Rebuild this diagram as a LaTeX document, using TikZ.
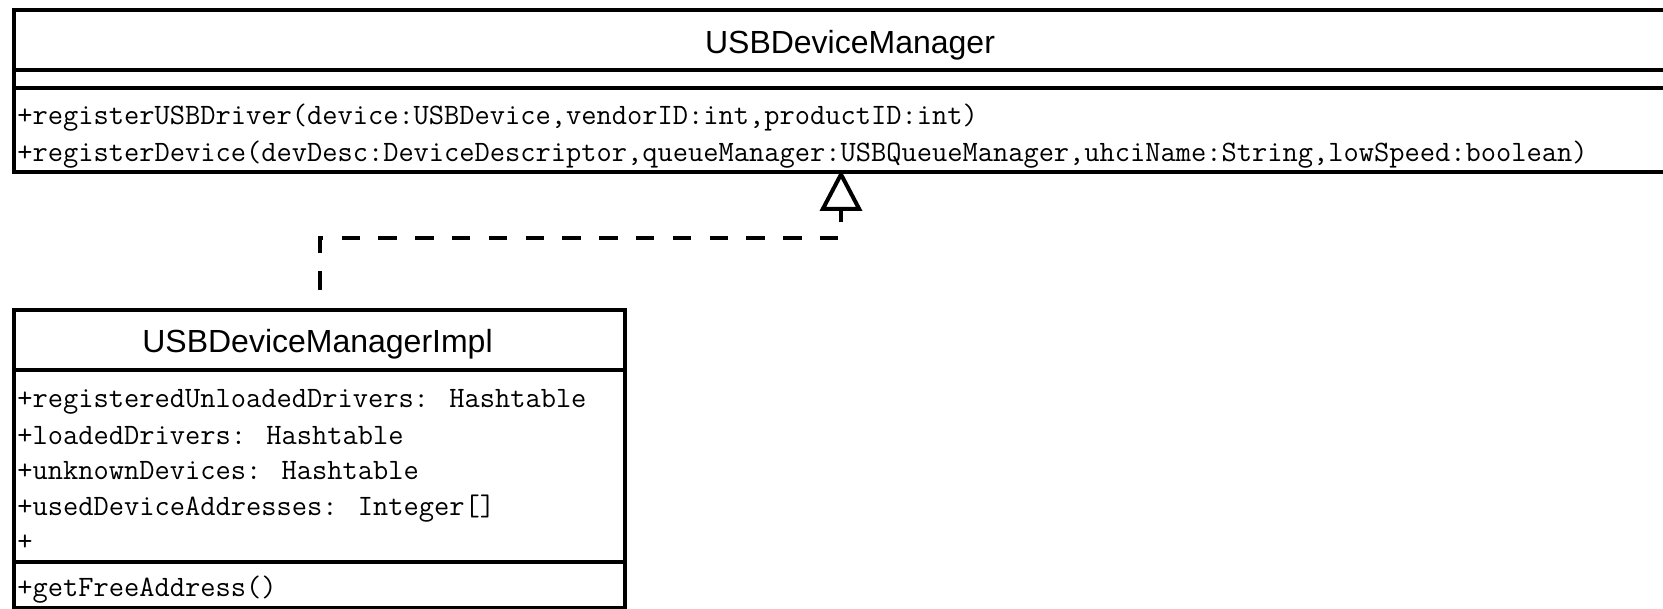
\documentclass[tikz,border=0pt]{standalone}
\usepackage{fontspec}
\setmainfont{Liberation Sans}
\usetikzlibrary{arrows.meta}

\begin{document}
\begin{tikzpicture}[x=0.5pt,y=-0.5pt,
  classbox/.style={draw, line width=2pt, inner sep=0pt, anchor=north west},
  divider/.style={line width=2pt},
  classname/.style={font=\fontsize{16}{19}\selectfont, inner sep=0pt, anchor=base},
  member/.style={font=\ttfamily\fontsize{14.8}{17}\selectfont, inner sep=0pt, anchor=base west},
  realizes/.style={line width=2pt, dash pattern=on 9.2pt off 9.2pt, dash phase=9.2pt,
    -{Triangle[open, length=20.5pt, width=21pt]}}
]
\useasboundingbox (0,0) rectangle (1663,609);
\clip (0,0) rectangle (1663,609);

% interface USBDeviceManager
\node[classbox, minimum width=838pt, minimum height=81pt] (mgr) at (12,8) {};
\draw[divider] (12,70.5) -- (1688,70.5);
\draw[divider] (12,88) -- (1688,88);
\node[classname] (mgrname) at (850,54) {USBDeviceManager};
\node[member] (m1) at (17,125) {+registerUSBDriver(device:USBDevice,vendorID:int,productID:int)};
\node[member] (m2) at (17,162) {+registerDevice(devDesc:DeviceDescriptor,queueManager:USBQueueManager,uhciName:String,lowSpeed:boolean)};

% class USBDeviceManagerImpl
\node[classbox, minimum width=305.5pt, minimum height=148.75pt] (impl) at (12,308) {};
\draw[divider] (12,370) -- (623,370);
\draw[divider] (12,561.5) -- (623,561.5);
\node[classname] (implname) at (317.5,352) {USBDeviceManagerImpl};
\node[member] (a1) at (17,407) {+registeredUnloadedDrivers: Hashtable};
\node[member] (a2) at (17,444) {+loadedDrivers: Hashtable};
\node[member] (a3) at (17,479) {+unknownDevices: Hashtable};
\node[member] (a4) at (17,515.5) {+usedDeviceAddresses: Integer[]};
\node[member] (a5) at (17,550.5) {+};
\node[member] (o1) at (17,596) {+getFreeAddress()};

% realization
\coordinate (bend) at (841,238);
\draw[realizes] (impl.north) |- (bend) -- ([yshift=2pt]bend |- mgr.south);
\end{tikzpicture}
\end{document}
